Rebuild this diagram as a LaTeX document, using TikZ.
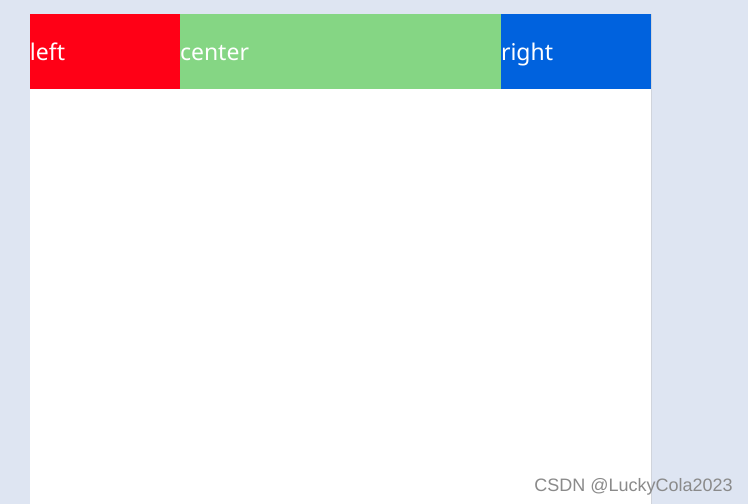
\documentclass[tikz,border=0pt]{standalone}
\usepackage{fontspec}
\newfontfamily\cellfont{Noto Sans}
\newfontfamily\markfont{Liberation Sans}
\usepackage{tikz}
\usetikzlibrary{positioning}
\definecolor{pagebg}{HTML}{DEE5F2}
\definecolor{panelline}{HTML}{D0D4DC}
\definecolor{leftred}{HTML}{FF0016}
\definecolor{centergreen}{HTML}{85D684}
\definecolor{rightblue}{HTML}{0062DE}
\definecolor{markgray}{HTML}{8A8A8A}

\begin{document}
\begin{tikzpicture}[
    x=1pt, y=-1pt,
    cell/.style={
      rectangle,
      inner sep=0pt,
      outer sep=0pt,
      minimum height=75pt,
      text height=17pt,
      text depth=0pt,
      align=left,
      text=white,
      font=\cellfont\fontsize{23}{28}\selectfont
    },
    watermark/.style={
      inner sep=0pt,
      text=markgray,
      font=\markfont\fontsize{18}{22}\selectfont
    }
  ]
  \useasboundingbox (0,0) rectangle (748,504);
  \fill[pagebg] (0,0) rectangle (748,504);
  \fill[white] (30,14) rectangle (651,504);
  \draw[panelline, line width=0.6pt] (651.3,14) -- (651.3,504);
  \node[cell, fill=leftred, minimum width=150pt, text width=150pt,
    anchor=north west] (left) at (30,14) {left};
  \node[cell, fill=centergreen, minimum width=321pt, text width=321pt,
    right=0pt of left] (center) {center};
  \node[cell, fill=rightblue, minimum width=150pt, text width=150pt,
    right=0pt of center] (right) {right};
  \node[watermark, anchor=base east] (mark) at (733,491) {CSDN @LuckyCola2023};
\end{tikzpicture}
\end{document}
